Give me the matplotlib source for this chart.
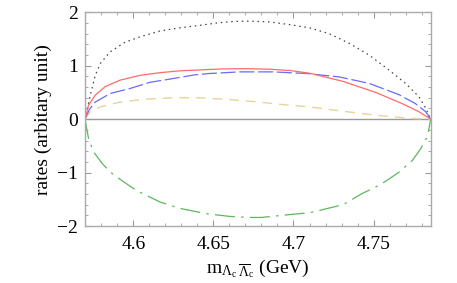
import matplotlib
matplotlib.use("Agg")
import matplotlib.pyplot as plt
from matplotlib.ticker import MultipleLocator

plt.rcParams['font.family'] = ['Liberation Serif', 'DejaVu Serif']
plt.rcParams['mathtext.fontset'] = 'custom'
plt.rcParams['mathtext.rm'] = 'Liberation Serif'
plt.rcParams['mathtext.it'] = 'Liberation Serif:italic'

# curves (x in GeV, rate in arbitrary units)
x_dot = [4.5698, 4.5731, 4.5762, 4.5793, 4.5855, 4.5948, 4.6041, 4.6166, 4.629, 4.640,
         4.652, 4.663, 4.6726, 4.685, 4.6975, 4.71, 4.7223, 4.7348, 4.7472, 4.7596,
         4.770, 4.7783, 4.7825, 4.7857]
y_dot = [0, 0.45, 0.82, 1.04, 1.26, 1.44, 1.54, 1.65, 1.71, 1.75,
         1.80, 1.83, 1.835, 1.82, 1.77, 1.71, 1.60, 1.42, 1.20, 0.92,
         0.67, 0.42, 0.21, 0]

x_red = [4.5698, 4.572, 4.5762, 4.5824, 4.5917, 4.6041, 4.6166, 4.629, 4.640, 4.655,
         4.67, 4.685, 4.698, 4.71, 4.7306, 4.7514, 4.768, 4.7783, 4.7857]
y_red = [0, 0.26, 0.45, 0.61, 0.73, 0.82, 0.87, 0.905, 0.92, 0.94,
         0.945, 0.935, 0.91, 0.86, 0.71, 0.50, 0.29, 0.14, 0]

x_blue = [4.5698, 4.5725, 4.5762, 4.5855, 4.598, 4.6104, 4.6228, 4.6384, 4.6477, 4.6664,
          4.687, 4.708, 4.7286, 4.7472, 4.7658, 4.7762, 4.7825, 4.7857]
y_blue = [0, 0.18, 0.32, 0.48, 0.575, 0.69, 0.75, 0.83, 0.855, 0.885,
          0.885, 0.855, 0.79, 0.67, 0.46, 0.29, 0.14, 0]

x_yel = [4.5698, 4.5731, 4.5793, 4.5917, 4.6083, 4.625, 4.64, 4.6558, 4.6767, 4.6975,
         4.71, 4.7305, 4.7514, 4.772, 4.7857]
y_yel = [0, 0.14, 0.23, 0.32, 0.375, 0.40, 0.40, 0.375, 0.325, 0.26,
         0.23, 0.15, 0.075, 0.015, 0]

x_grn = [4.5698, 4.572, 4.5751, 4.5803, 4.5855, 4.5938, 4.6021, 4.6166, 4.629, 4.6456,
         4.6601, 4.6726, 4.6798, 4.6964, 4.7104, 4.7228, 4.731, 4.743, 4.7514, 4.7577,
         4.766, 4.7743, 4.7795, 4.7836, 4.7857]
y_grn = [0, -0.36, -0.61, -0.82, -0.99, -1.17, -1.34, -1.55, -1.67, -1.77,
         -1.82, -1.84, -1.84, -1.79, -1.75, -1.66, -1.60, -1.39, -1.27, -1.16,
         -0.99, -0.77, -0.55, -0.33, 0]

xticks = [4.6, 4.65, 4.7, 4.75]
xticklabels = ['4.6', '4.65', '4.7', '4.75']
yticks = [-2, -1, 0, 1, 2]
yticklabels = ['\u22122', '\u22121', '0', '1', '2']

fig = plt.figure(figsize=(4.57, 2.83), dpi=100)
ax = fig.add_axes([0.186, 0.2014, 0.7565, 0.7551])

ax.axhline(0, color='#999999', lw=1.0, zorder=1)
ax.plot(x_dot, y_dot, color='#444444', lw=0.9, dashes=(1.2, 3.0))
ax.plot(x_yel, y_yel, color='#e8d49a', lw=1.0, dashes=(7, 5))
ax.plot(x_grn, y_grn, color='#5cb85c', lw=0.9, dashes=(16, 5, 2, 5))
ax.plot(x_blue, y_blue, color='#6a6aff', lw=0.9, dashes=(12, 3))
ax.plot(x_red, y_red, color='#ff6b6b', lw=0.9)

ax.set_xlim(4.5698, 4.7857)
ax.set_ylim(-2, 2)
ax.set_xticks(xticks)
ax.set_xticklabels(xticklabels)
ax.set_yticks(yticks)
ax.set_yticklabels(yticklabels)
ax.xaxis.set_minor_locator(MultipleLocator(0.01))
ax.yaxis.set_minor_locator(MultipleLocator(0.2))
ax.tick_params(which='both', direction='in', top=True, right=True, colors='#999999',
               labelcolor='black', labelsize=14)
ax.tick_params(which='major', length=4, width=0.8)
ax.tick_params(which='minor', length=2, width=0.6)
ax.tick_params(axis='x', pad=7)
ax.tick_params(axis='y', pad=5)
for s in ax.spines.values():
    s.set_color('#aaaaaa')
    s.set_linewidth(1.0)

ax.set_xlabel(r'$\mathrm{m}_{\Lambda_\mathrm{c}\;\overline{\Lambda}_\mathrm{c}}$ (GeV)', fontsize=14, labelpad=4)
ax.set_ylabel('rates (arbitary unit)', fontsize=14, labelpad=4)

fig.savefig('out.png', dpi=100)
